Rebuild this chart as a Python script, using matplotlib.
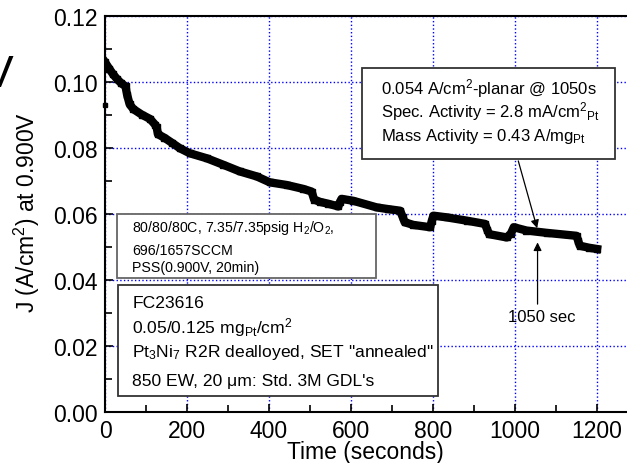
import matplotlib
matplotlib.use("Agg")
import matplotlib.pyplot as plt
from matplotlib.patches import Rectangle

plt.rcParams['font.family'] = ['Liberation Sans', 'DejaVu Sans']
plt.rcParams['mathtext.default'] = 'regular'

# time (s) and current density J (A/cm2) at 0.900 V
t_sec = [0, 10, 20, 30, 40, 50, 54, 60, 69, 90, 110, 122, 126, 129, 145, 163,
         183, 207, 248, 289, 329, 370, 402, 443, 484, 504, 510, 524, 545, 569,
         573, 577, 606, 663, 690, 720, 726, 731, 752, 793, 797, 801, 833, 882,
         927, 932, 937, 980, 990, 997, 1028, 1077, 1150, 1154, 1158, 1180, 1200]
j_val = [0.1059, 0.1040, 0.1022, 0.1007, 0.0995, 0.0986, 0.0960, 0.0932, 0.0917,
         0.0900, 0.0887, 0.0870, 0.0862, 0.0841, 0.0830, 0.0815,
         0.0798, 0.0783, 0.0768, 0.0748, 0.0728, 0.0713, 0.0695, 0.0687, 0.0675,
         0.0667, 0.0643, 0.0636, 0.0630, 0.0622,
         0.0635, 0.0645, 0.0639, 0.0619, 0.0614, 0.0609, 0.0590, 0.0574, 0.0566,
         0.0559, 0.0578, 0.0594, 0.0589, 0.0579,
         0.0569, 0.0552, 0.0538, 0.0528, 0.0540, 0.0559, 0.0549, 0.0542, 0.0533,
         0.0518, 0.0503, 0.0497, 0.0493]
first_t = [0]
first_j = [0.093]

x_ticks = [0, 200, 400, 600, 800, 1000, 1200]
y_ticks = [0.00, 0.02, 0.04, 0.06, 0.08, 0.10, 0.12]

W, H = 627, 464
fx = lambda x: x / W
fy = lambda y: 1 - y / H

fig = plt.figure(figsize=(6.27, 4.64), dpi=100)
ax = fig.add_axes([fx(105), fy(412.7), (638 - 105) / W, (412.7 - 16.7) / H])

ax.plot(t_sec, j_val, color='black', lw=6, marker='s', ms=5, zorder=3)
ax.plot(first_t, first_j, color='black', marker='s', ms=3, ls='none', zorder=3, clip_on=False)

ax.set_xlim(0, 1300)
ax.set_ylim(0, 0.12)
ax.set_xticks(x_ticks)
ax.set_xticks(range(100, 1400, 200), minor=True)
ax.set_yticks(y_ticks)
ax.set_yticks([0.01, 0.03, 0.05, 0.07, 0.09, 0.11], minor=True)
ax.set_yticklabels([f"{v:.2f}" for v in y_ticks])
ax.grid(True, which='major', color='blue', ls=':', lw=1)
ax.tick_params(which='both', direction='in', top=False, right=False, labelsize=16.5, width=1.2)
ax.tick_params(which='major', length=6, pad=5)
ax.tick_params(which='minor', length=5)
for s in ax.spines.values():
    s.set_linewidth(1.5)

ax.set_xlabel("Time (seconds)", fontsize=16.5)
ax.set_ylabel("J (A/cm$^2$) at 0.900V", fontsize=16.5)
ax.xaxis.set_label_coords((365 - 105) / 533, -0.072)
ax.yaxis.set_label_coords((42 - 105) / 533, 0.505)

# arrows
ax.annotate('', xy=(1054, 0.0556), xytext=(1008, 0.0760),
            arrowprops=dict(arrowstyle='-|>', color='black', lw=0.9, mutation_scale=12,
                            shrinkA=0, shrinkB=0))
ax.annotate('', xy=(1055, 0.0513), xytext=(1055, 0.0326),
            arrowprops=dict(arrowstyle='-|>', color='black', lw=0.9, mutation_scale=12,
                            shrinkA=0, shrinkB=0))
ax.text(1066, 0.0288, "1050 sec", fontsize=12, ha='center', va='center')

# text boxes
def box(x0, y0, x1, y1, ec):
    fig.add_artist(Rectangle((fx(x0), fy(y1)), (x1 - x0) / W, (y1 - y0) / H,
                             transform=fig.transFigure, facecolor='white',
                             edgecolor=ec, lw=1.3, zorder=2))

box(362, 69, 615, 160, '#333333')
for yy, s in [(89, "0.054 A/cm$^2$-planar @ 1050s"),
              (111.5, "Spec. Activity = 2.8 mA/cm$^2$$_{Pt}$"),
              (136.5, "Mass Activity = 0.43 A/mg$_{Pt}$")]:
    fig.text(fx(381), fy(yy), s, fontsize=12, ha='left', va='center', zorder=4)

box(117, 215, 376, 279, '#666666')
for yy, s in [(228, "80/80/80C, 7.35/7.35psig H$_2$/O$_2$,"),
              (251, "696/1657SCCM"),
              (268, "PSS(0.900V, 20min)")]:
    fig.text(fx(132), fy(yy), s, fontsize=10.2, ha='left', va='center', zorder=4)

box(118, 286, 438, 397, '#333333')
for yy, s in [(303, "FC23616"),
              (327.5, "0.05/0.125 mg$_{Pt}$/cm$^2$"),
              (353, "Pt$_3$Ni$_7$ R2R dealloyed, SET \"annealed\""),
              (382, "850 EW, 20 \u03bcm: Std. 3M GDL's")]:
    fig.text(fx(132.5), fy(yy), s, fontsize=12.6, ha='left', va='center', zorder=4)

# cut-off remnant of a large letter at the top left
fig.text(fx(13), fy(87), "V", fontsize=32, ha='right', va='baseline')

fig.savefig("out.png", dpi=100)
